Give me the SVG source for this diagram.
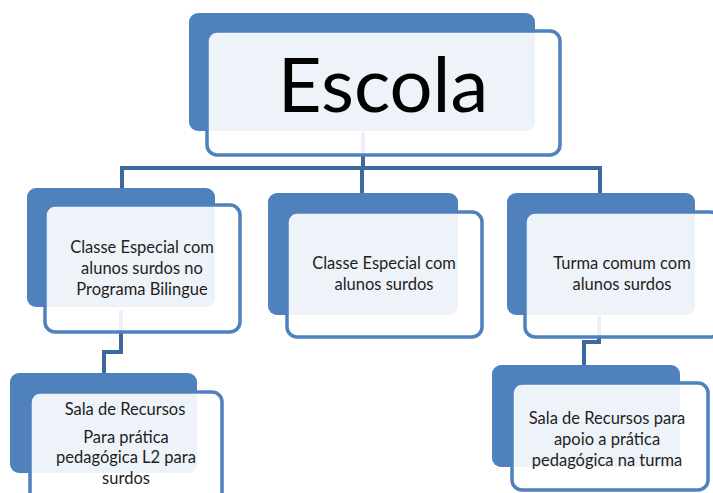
<svg xmlns="http://www.w3.org/2000/svg" width="713" height="493" viewBox="0 0 713 493">
<style>
.back{fill:#4f81bd}
.front{fill:#ffffff;fill-opacity:0.9;stroke:#4f81bd;stroke-width:3.5}
.conn{fill:none;stroke:#3d6a9e;stroke-width:4;stroke-linejoin:miter}
.t{font-family:Lato,"Open Sans","Liberation Sans",sans-serif;font-size:16.5px;fill:#1e1e1e;text-anchor:middle}
.big{font-family:Lato,"Open Sans","Liberation Sans",sans-serif;font-size:76px;fill:#000;text-anchor:middle}
</style>
<rect width="713" height="493" fill="#fff"/>
<g id="connectors">
<path class="conn" d="M363 132 V168 M122 168 H600 M122 166 V190 M362 166 V193 M600 166 V193"/>
<path class="conn" d="M121 310 V352 H104 V374"/>
<path class="conn" d="M599 316 V342 H584 V366"/>
</g>
<g id="escola">
<rect class="back" x="189" y="13" width="346" height="118" rx="9"/>
<rect class="front" x="207" y="31" width="353" height="124" rx="10"/>
<text class="big" x="383" y="112">Escola</text>
</g>
<g id="classe-bilingue">
<rect class="back" x="27" y="188" width="188" height="119" rx="9"/>
<rect class="front" x="45" y="205" width="195" height="127" rx="10"/>
<text class="t" x="142" y="253">Classe Especial com</text>
<text class="t" x="142" y="274">alunos surdos no</text>
<text class="t" x="142" y="295">Programa Bilingue</text>
</g>
<g id="classe-especial">
<rect class="back" x="268" y="193" width="190" height="122" rx="9"/>
<rect class="front" x="287" y="212" width="195" height="125" rx="10"/>
<text class="t" x="384" y="269">Classe Especial com</text>
<text class="t" x="384" y="290">alunos surdos</text>
</g>
<g id="turma-comum">
<rect class="back" x="507" y="193" width="188" height="122" rx="9"/>
<rect class="front" x="525" y="212" width="195" height="125" rx="10"/>
<text class="t" x="622" y="269">Turma comum com</text>
<text class="t" x="622" y="290">alunos surdos</text>
</g>
<g id="sala-l2">
<rect class="back" x="10" y="373" width="187" height="100" rx="9"/>
<rect class="front" x="30" y="392" width="192" height="110" rx="10"/>
<text class="t" x="125" y="415">Sala de Recursos</text>
<text class="t" x="126" y="443">Para prática</text>
<text class="t" x="126" y="463">pedagógica L2 para</text>
<text class="t" x="126" y="484">surdos</text>
</g>
<g id="sala-turma">
<rect class="back" x="492" y="365" width="188" height="102" rx="9"/>
<rect class="front" x="512" y="383" width="196" height="107" rx="10"/>
<text class="t" x="607" y="424">Sala de Recursos para</text>
<text class="t" x="607" y="445">apoio a prática</text>
<text class="t" x="607" y="466">pedagógica na turma</text>
</g>
</svg>
